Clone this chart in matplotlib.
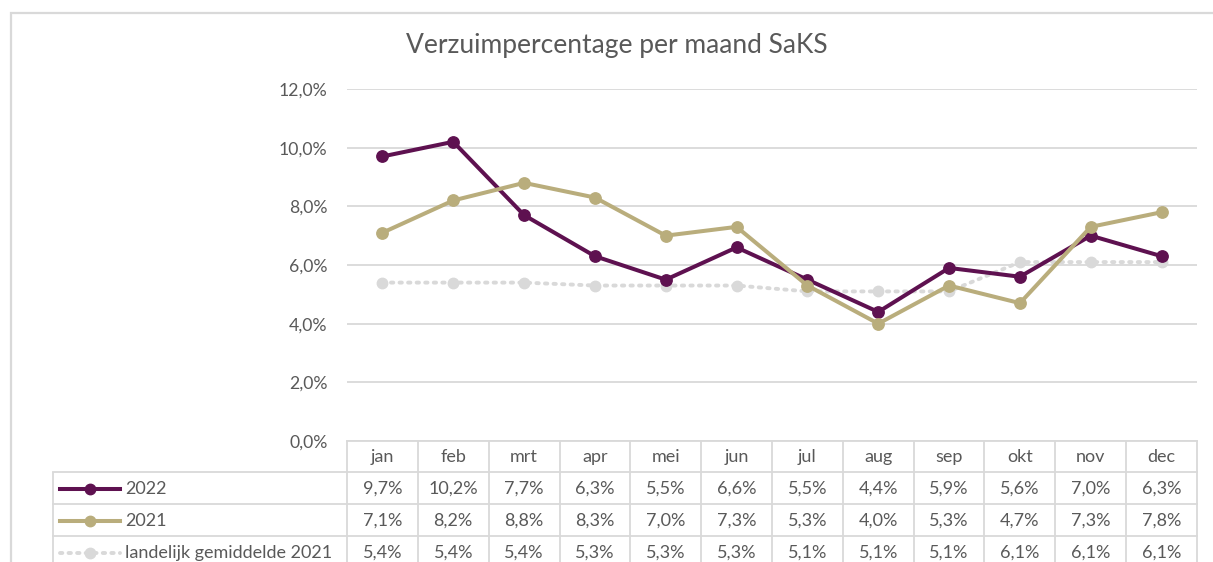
import matplotlib.pyplot as plt
from matplotlib.patches import Rectangle
from matplotlib.lines import Line2D

months = ["jan", "feb", "mrt", "apr", "mei", "jun", "jul", "aug", "sep", "okt", "nov", "dec"]
saks_2022 = [9.7, 10.2, 7.7, 6.3, 5.5, 6.6, 5.5, 4.4, 5.9, 5.6, 7.0, 6.3]
saks_2021 = [7.1, 8.2, 8.8, 8.3, 7.0, 7.3, 5.3, 4.0, 5.3, 4.7, 7.3, 7.8]
landelijk_2021 = [5.4, 5.4, 5.4, 5.3, 5.3, 5.3, 5.1, 5.1, 5.1, 6.1, 6.1, 6.1]

series_names = ["2022", "2021", "landelijk gemiddelde 2021"]
series_values = [saks_2022, saks_2021, landelijk_2021]
series_colors = ["#5E1150", "#B9AD7C", "#D9D9D9"]
series_styles = ["-", "-", ":"]

grid_color = "#D9D9D9"
text_color = "#595959"
plt.rcParams["font.family"] = ["Lato", "DejaVu Sans"]

W, H = 1213, 562
fig = plt.figure(figsize=(W / 100, H / 100), dpi=100)

# outer chart border (cropped at right/bottom in the reference)
fig.patches.append(Rectangle((11 / W, -0.1), 1.2, 1 - 13 / H + 0.1, transform=fig.transFigure,
                             fill=False, edgecolor=grid_color, lw=1.6))

left, right, top, bottom = 347, 1197, 89, 441
ax = fig.add_axes([left / W, 1 - bottom / H, (right - left) / W, (bottom - top) / H])

x = list(range(len(months)))
for name, vals, col, ls in zip(series_names, series_values, series_colors, series_styles):
    if ls == ":":
        ax.plot(x, [v / 100 for v in vals], color=col, lw=2.8, ls=(0, (0.6, 1.6)),
                marker="o", ms=7.5, zorder=2, dash_capstyle="round")
    else:
        ax.plot(x, [v / 100 for v in vals], color=col, lw=2.9, marker="o", ms=8.2, zorder=3)

ax.set_xlim(-0.5, len(months) - 0.5)
ax.set_ylim(0, 0.12)
ax.set_yticks([i / 100 for i in range(0, 13, 2)])
ax.set_yticklabels([f"{i},0%" for i in range(0, 13, 2)], fontsize=12.7, color=text_color)
ax.tick_params(axis="y", length=0, pad=14)
ax.set_xticks([])
for s in ax.spines.values():
    s.set_visible(False)
ax.grid(axis="y", color=grid_color, lw=1.3)
ax.set_axisbelow(True)

fig.text(617 / W, 1 - 46 / H, "Verzuimpercentage per maand SaKS", ha="center", va="center",
         fontsize=19, color=text_color)

# data table below the axes
tr = ax.get_xaxis_transform()
ah = bottom - top
row_h = 32 / ah
col_w = (right - left) / 12
label_left = -0.5 - (left - 53) / col_w
kw = dict(transform=tr, clip_on=False, color=grid_color, lw=1.3)

ax.add_line(Line2D([-0.5, 11.5], [0, 0], **kw))
for r in range(1, 4):
    ax.add_line(Line2D([label_left, 11.5], [-r * row_h + 0.003, -r * row_h + 0.003], **kw))
ax.add_line(Line2D([label_left, label_left], [-row_h, -1], **kw))
for c in range(13):
    ax.add_line(Line2D([c - 0.5, c - 0.5], [0, -1], **kw))

for i, m in enumerate(months):
    ax.text(i, -0.5 * row_h, m, transform=tr, ha="center", va="center", fontsize=13, color=text_color)
for r, (name, vals, col, ls) in enumerate(zip(series_names, series_values, series_colors, series_styles)):
    yc = -(r + 1.5) * row_h
    for i, v in enumerate(vals):
        ax.text(i, yc, f"{v:.1f}%".replace(".", ","), transform=tr, ha="center", va="center",
                fontsize=13, color=text_color)
    kx0 = label_left + 7 / col_w
    kx1 = label_left + 67 / col_w
    if ls == ":":
        ax.add_line(Line2D([kx0, kx1], [yc, yc], transform=tr, clip_on=False, color=col, lw=2.8,
                           ls=(0, (0.6, 1.6)), dash_capstyle="round"))
    else:
        ax.add_line(Line2D([kx0, kx1], [yc, yc], transform=tr, clip_on=False, color=col, lw=2.9))
    ax.add_line(Line2D([(kx0 + kx1) / 2], [yc], transform=tr, clip_on=False, color=col,
                       marker="o", ms=7.5))
    ax.text(label_left + 72 / col_w, yc, name, transform=tr, ha="left", va="center",
            fontsize=13, color=text_color)

fig.savefig("out.png", dpi=100)
